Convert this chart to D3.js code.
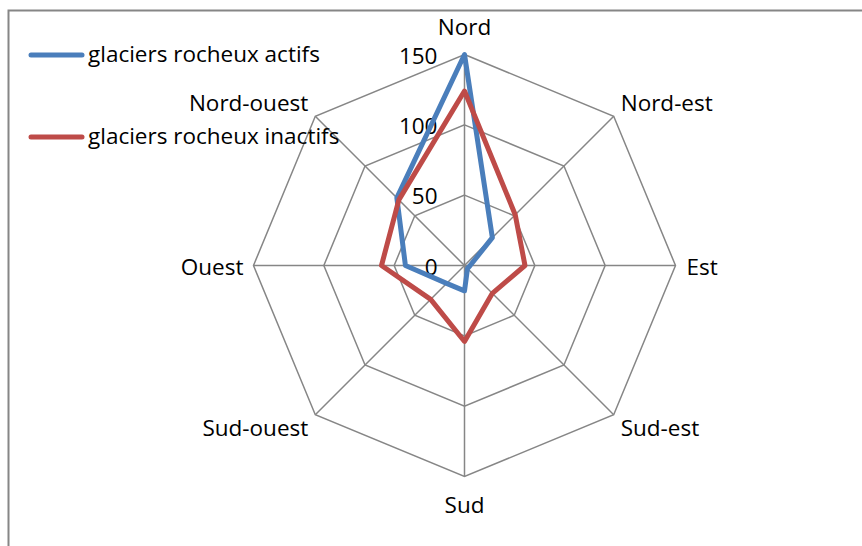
<!DOCTYPE html>
<html>
<head>
<meta charset="utf-8">
<script src="https://cdn.jsdelivr.net/npm/d3@7"></script>
<style>
  body { margin: 0; background: #fff; }
  text { font-family: "Open Sans", Lato, sans-serif; fill: #000; }
</style>
</head>
<body>
<div class="radar"></div>
<script>
  // data
  var directions = ["Nord", "Nord-est", "Est", "Sud-est", "Sud", "Sud-ouest", "Ouest", "Nord-ouest"];
  var actifs = [150, 28, 4, 3, 18, 18, 42, 68];
  var inactifs = [124, 51, 43, 28, 54, 34, 59, 66];
  var ticks = [0, 50, 100, 150];
  var seriesNames = ["glaciers rocheux actifs", "glaciers rocheux inactifs"];
  var colors = ["#4a7ebb", "#be4b48"];

  var width = 862, height = 546;
  var cx = 464.5, cy = 265.5, radius = 211;
  var fontSize = "22.5px";

  var svg = d3.select(".radar").append("svg")
    .attr("width", width)
    .attr("height", height);

  // chart area border (runs off right & bottom)
  svg.append("rect")
    .attr("x", 8.5).attr("y", 10.5)
    .attr("width", 900).attr("height", 600)
    .attr("fill", "none")
    .attr("stroke", "#868686")
    .attr("stroke-width", 2);

  var r = d3.scaleLinear().domain([0, 150]).range([0, radius]);
  var angle = d3.scalePoint().domain(directions).range([0, 2 * Math.PI * 7 / 8]);

  function px(dir, v) { return cx + r(v) * Math.sin(angle(dir)); }
  function py(dir, v) { return cy - r(v) * Math.cos(angle(dir)); }

  var g = svg.append("g");

  // octagon rings
  ticks.slice(1).forEach(function (t) {
    g.append("polygon")
      .attr("points", directions.map(function (d) { return px(d, t) + "," + py(d, t); }).join(" "))
      .attr("fill", "none")
      .attr("stroke", "#868686")
      .attr("stroke-width", 1.5);
  });

  // spokes
  g.selectAll(".spoke")
    .data(directions)
    .enter().append("line")
    .attr("class", "spoke")
    .attr("x1", cx).attr("y1", cy)
    .attr("x2", function (d) { return px(d, 150); })
    .attr("y2", function (d) { return py(d, 150); })
    .attr("stroke", "#868686")
    .attr("stroke-width", 1.5);

  // tick labels
  g.selectAll(".tick")
    .data(ticks)
    .enter().append("text")
    .attr("class", "tick")
    .attr("x", cx - 27)
    .attr("y", function (d) { return cy - r(d) + 9; })
    .attr("text-anchor", "end")
    .style("font-size", fontSize)
    .text(function (d) { return d; });

  // direction labels
  var labelPos = {
    "Nord": { dx: 0, dy: -20, anchor: "middle" },
    "Nord-est": { dx: 7, dy: -5, anchor: "start" },
    "Est": { dx: 11, dy: 9, anchor: "start" },
    "Sud-est": { dx: 7, dy: 21, anchor: "start" },
    "Sud": { dx: 0, dy: 36, anchor: "middle" },
    "Sud-ouest": { dx: -7, dy: 21, anchor: "end" },
    "Ouest": { dx: -10, dy: 9, anchor: "end" },
    "Nord-ouest": { dx: -7, dy: -5, anchor: "end" }
  };
  g.selectAll(".dir")
    .data(directions)
    .enter().append("text")
    .attr("class", "dir")
    .attr("x", function (d) { return px(d, 150) + labelPos[d].dx; })
    .attr("y", function (d) { return py(d, 150) + labelPos[d].dy; })
    .attr("text-anchor", function (d) { return labelPos[d].anchor; })
    .style("font-size", fontSize)
    .text(function (d) { return d; });

  // series
  var line = d3.lineRadial()
    .angle(function (d, i) { return angle(directions[i]); })
    .radius(function (d) { return r(d); })
    .curve(d3.curveLinearClosed);

  [actifs, inactifs].forEach(function (vals, i) {
    g.append("path")
      .attr("transform", "translate(" + cx + "," + cy + ")")
      .attr("d", line(vals))
      .attr("fill", "none")
      .attr("stroke", colors[i])
      .attr("stroke-width", 5)
      .attr("stroke-linejoin", "round");
  });

  // legend
  var legendY = [55, 137];
  seriesNames.forEach(function (name, i) {
    svg.append("line")
      .attr("x1", 31).attr("x2", 82)
      .attr("y1", legendY[i]).attr("y2", legendY[i])
      .attr("stroke", colors[i])
      .attr("stroke-width", 5)
      .attr("stroke-linecap", "round");
    svg.append("text")
      .attr("x", 88)
      .attr("y", legendY[i] + 7)
      .style("font-size", fontSize)
      .text(name);
  });
</script>
</body>
</html>
